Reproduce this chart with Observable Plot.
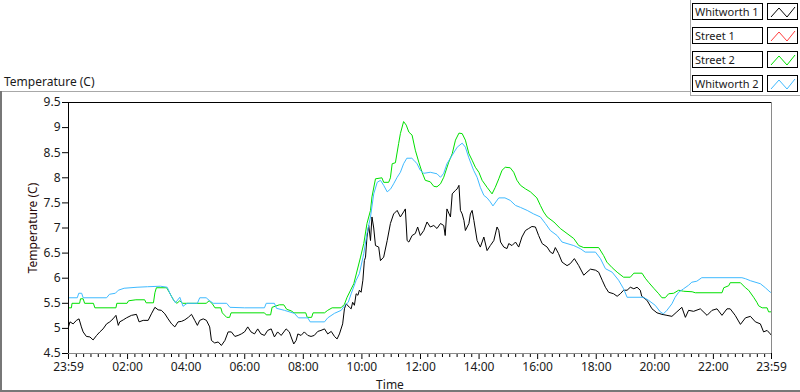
<!DOCTYPE html>
<html><head><meta charset="utf-8">
<script src="https://cdn.jsdelivr.net/npm/d3@7"></script>
<script src="https://cdn.jsdelivr.net/npm/@observablehq/plot@0.6"></script>
<style>
body{margin:0;background:#fff;font-family:"Noto Sans",sans-serif;color:#1a1a1a;}
#wrap{position:relative;width:800px;height:392px;overflow:hidden;background:#fff;}
#chart{position:absolute;left:0;top:0;}
.ov{position:absolute;}
.ln{position:absolute;}
.lbox{position:absolute;box-sizing:border-box;border:1px solid #000;background:#fff;font-size:11px;line-height:15px;padding-left:2px;white-space:nowrap;overflow:hidden;}
.sw{position:absolute;box-sizing:border-box;border:1px solid #000;background:#fff;}
</style></head><body>
<div id="wrap">
  <div id="chart"></div>
</div>
<script>
// ---- data (hours after 23:59 start, temperature °C) ----
const seriesNames = ["Whitworth 1", "Street 1", "Street 2", "Whitworth 2"];
const seriesColors = ["#000000", "#ff3c3c", "#00e000", "#3fbaff"];
const tickLabels = ["23:59","02:00","04:00","06:00","08:00","10:00","12:00","14:00","16:00","18:00","20:00","22:00","23:59"];
const yTicks = [4.5,5,5.5,6,6.5,7,7.5,8,8.5,9,9.5];

const whitworth1 = [[0,5.03],[0.05,5.13],[0.16,5.09],[0.27,5.16],[0.36,5.19],[0.44,5.03],[0.50,4.93],[0.61,4.84],[0.73,4.83],[0.84,4.77],[0.96,4.86],[1.07,4.93],[1.18,4.99],[1.30,5.09],[1.41,5.13],[1.52,5.19],[1.62,5.26],[1.70,5.06],[1.75,5.13],[1.87,5.17],[1.98,5.21],[2.15,5.26],[2.32,5.28],[2.41,5.13],[2.55,5.16],[2.72,5.16],[2.83,5.29],[2.95,5.42],[3.06,5.37],[3.17,5.36],[3.29,5.29],[3.40,5.19],[3.52,5.09],[3.63,5.03],[3.74,5.13],[3.86,5.14],[3.97,5.17],[4.09,5.22],[4.20,5.28],[4.31,5.16],[4.40,5.06],[4.48,5.16],[4.60,5.19],[4.71,5.16],[4.82,5.03],[4.88,4.76],[4.99,4.71],[5.11,4.73],[5.22,4.66],[5.34,4.76],[5.45,4.93],[5.56,4.93],[5.68,4.84],[5.79,4.86],[5.90,4.89],
[6.01,4.93],[6.12,5.03],[6.23,4.93],[6.35,4.89],[6.46,4.99],[6.57,4.89],[6.69,4.86],[6.80,4.96],[6.92,4.99],[7.03,4.83],[7.14,4.93],[7.26,4.86],[7.43,4.99],[7.54,4.93],[7.60,4.83],[7.69,4.69],[7.77,4.76],[7.83,4.89],[7.94,4.86],[8.05,4.93],[8.17,4.86],[8.28,4.84],[8.39,4.86],[8.51,4.94],[8.62,4.96],[8.74,4.99],[8.85,4.89],[8.97,4.94],[9.08,4.84],[9.17,4.79],[9.25,4.89],[9.36,5.09],[9.42,5.39],[9.48,5.49],[9.59,5.42],[9.65,5.39],[9.70,5.52],[9.76,5.46],[9.82,5.69],[9.88,5.66],[9.93,5.76],[9.99,5.72],[10.05,5.96],[10.10,6.35],[10.14,6.42],[10.19,6.82],[10.25,7.05],[10.31,6.75],[10.36,7.22],[10.42,7.00],[10.48,6.65],[10.59,6.62],[10.65,6.35],[10.76,6.42],[10.88,6.75],[10.99,7.09],[11.10,7.28],[11.22,7.35],[11.33,7.22],[11.44,7.32],[11.50,7.38],[11.56,6.75],[11.62,6.72],[11.73,6.85],[11.84,6.89],[11.92,7.02],[12.01,6.85],[12.13,6.95],[12.24,7.12],[12.35,7.02],[12.47,7.05],[12.58,6.99],[12.70,7.09],[12.81,7.05],[12.86,6.85],[12.92,7.38],[13.04,7.22],[13.10,7.68],[13.21,7.75],[13.27,7.78],[13.33,7.85],[13.38,7.35],[13.44,7.28],[13.50,7.15],[13.55,6.95],[13.67,7.09],[13.72,7.28],[13.78,7.35],[13.84,7.15],[13.95,6.75],[14.06,6.62],[14.18,6.82],[14.29,6.55],[14.40,6.65],[14.52,6.75],[14.63,7.02],[14.69,6.95],[14.75,6.72],[14.86,6.62],[14.97,6.59],[15.03,6.69],[15.14,6.65],[15.26,6.72],[15.37,6.62],[15.48,6.82],[15.60,6.95],[15.71,6.99],[15.82,7.03],[15.94,7.02],[16.05,6.85],[16.17,6.69],[16.34,6.62],[16.45,6.52],[16.54,6.49],[16.62,6.61],[16.73,6.49],[16.85,6.32],[17.02,6.25],[17.13,6.29],[17.27,6.39],[17.42,6.25],[17.59,6.06],[17.70,6.12],[17.82,6.18],[17.99,6.16],[18.10,6.12],[18.22,5.96],[18.33,5.82],[18.44,5.72],[18.61,5.69],[18.73,5.64],[18.84,5.69],[18.95,5.76],[19.07,5.76],[19.18,5.82],[19.30,5.79],[19.41,5.82],[19.52,5.76],[19.57,5.64],[19.75,5.56],[19.92,5.39],[20.09,5.31],[20.26,5.28],[20.43,5.26],[20.60,5.24],[20.77,5.33],[20.94,5.42],[21.06,5.22],[21.17,5.36],[21.34,5.34],[21.57,5.39],[21.80,5.26],[21.97,5.36],[22.14,5.39],[22.31,5.26],[22.48,5.39],[22.59,5.39],[22.76,5.26],[22.94,5.08],[23.11,5.21],[23.28,5.24],[23.45,5.13],[23.62,5.09],[23.73,4.93],[23.85,4.96],[23.96,4.89],[24,4.86]];

const street1 = []; // not visible in the chart

const street2 = [[0,5.41],[0.10,5.41],[0.12,5.50],[0.38,5.50],[0.41,5.59],[0.50,5.59],[0.55,5.50],[0.85,5.50],[0.90,5.41],[1.62,5.41],[1.65,5.50],[2.00,5.50],[2.05,5.55],[2.30,5.57],[2.60,5.57],[2.65,5.51],[2.90,5.51],[2.95,5.71],[3.00,5.81],[3.35,5.81],[3.45,5.71],[3.60,5.55],[3.70,5.50],[3.80,5.55],[3.90,5.50],[4.70,5.50],[4.80,5.55],[4.90,5.50],[5.00,5.41],[5.20,5.41],[5.25,5.31],[5.40,5.22],[5.50,5.22],[5.55,5.31],[6.69,5.31],[6.75,5.27],[6.90,5.27],[6.95,5.42],[7.20,5.47],[7.35,5.47],[7.45,5.38],[7.60,5.35],[7.70,5.31],[8.10,5.31],[8.15,5.22],[8.30,5.22],[8.35,5.31],[8.74,5.31],[8.85,5.36],[9.00,5.41],[9.30,5.41],[9.42,5.48],[9.51,5.62],[9.74,5.89],[9.97,6.42],[10.08,6.69],[10.19,7.09],[10.31,7.35],[10.36,7.62],[10.48,7.98],[10.70,8.00],[10.76,7.91],[10.93,7.91],[10.99,8.00],[11.05,8.28],[11.16,8.30],[11.27,8.68],[11.33,8.88],[11.44,9.12],[11.53,9.05],[11.62,8.91],[11.73,8.85],[11.84,8.55],[11.96,8.31],[12.07,8.11],[12.18,7.95],[12.35,7.92],[12.47,7.83],[12.58,7.82],[12.70,7.88],[12.81,8.01],[12.98,8.31],[13.10,8.48],[13.21,8.75],[13.33,8.89],[13.44,8.88],[13.55,8.75],[13.67,8.48],[13.78,8.35],[13.89,8.21],[14.01,8.11],[14.12,7.95],[14.29,7.81],[14.46,7.68],[14.57,7.81],[14.69,7.98],[14.80,8.15],[14.91,8.21],[15.08,8.20],[15.20,8.11],[15.31,7.95],[15.43,7.85],[15.60,7.78],[15.77,7.72],[15.99,7.60],[16.11,7.45],[16.22,7.32],[16.34,7.22],[16.57,7.12],[16.79,6.99],[17.02,6.89],[17.25,6.79],[17.42,6.65],[17.59,6.61],[18.10,6.61],[18.27,6.45],[18.38,6.32],[18.56,6.21],[18.73,6.12],[18.95,6.02],[19.18,6.02],[19.30,6.10],[19.58,6.10],[19.69,6.00],[19.80,5.92],[19.98,5.80],[20.15,5.69],[20.26,5.61],[20.37,5.61],[20.49,5.69],[20.66,5.70],[20.83,5.76],[21.00,5.74],[21.29,5.73],[21.40,5.71],[22.31,5.71],[22.37,5.81],[22.54,5.85],[22.59,5.91],[22.94,5.91],[23.11,5.81],[23.22,5.76],[23.39,5.62],[23.50,5.52],[23.56,5.45],[23.68,5.41],[23.85,5.41],[23.90,5.33],[24,5.33]];

const whitworth2 = [[0,5.61],[0.30,5.61],[0.35,5.70],[0.45,5.70],[0.50,5.61],[1.30,5.61],[1.40,5.68],[1.60,5.70],[1.70,5.76],[1.90,5.80],[2.34,5.82],[2.70,5.83],[3.14,5.84],[3.37,5.82],[3.50,5.65],[3.65,5.51],[3.80,5.62],[3.91,5.44],[4.05,5.50],[4.40,5.50],[4.48,5.61],[4.70,5.61],[4.80,5.56],[4.94,5.50],[5.40,5.50],[5.51,5.42],[6.01,5.41],[6.69,5.41],[6.75,5.50],[7.03,5.50],[7.10,5.40],[7.37,5.36],[7.71,5.30],[7.85,5.21],[8.17,5.21],[8.25,5.13],[8.74,5.13],[8.85,5.21],[9.08,5.30],[9.31,5.36],[9.42,5.45],[9.55,5.52],[9.65,5.69],[9.82,5.96],[9.93,6.09],[10.08,6.49],[10.19,6.89],[10.31,7.22],[10.42,7.68],[10.54,7.91],[10.65,7.95],[10.76,7.85],[10.88,7.72],[11.00,7.78],[11.10,7.88],[11.22,8.01],[11.33,8.11],[11.44,8.28],[11.55,8.39],[11.72,8.39],[11.79,8.35],[11.90,8.28],[12.01,8.15],[12.13,8.09],[12.35,8.11],[12.58,8.08],[12.70,8.01],[12.81,8.09],[12.92,8.28],[13.10,8.45],[13.27,8.61],[13.44,8.69],[13.55,8.61],[13.66,8.41],[13.83,8.15],[13.95,8.01],[14.06,7.81],[14.18,7.65],[14.29,7.60],[14.40,7.52],[14.49,7.44],[14.69,7.60],[14.90,7.60],[15.08,7.55],[15.26,7.45],[15.43,7.41],[15.66,7.35],[15.88,7.28],[16.11,7.22],[16.28,7.09],[16.45,6.95],[16.68,6.85],[16.85,6.72],[17.02,6.69],[17.25,6.65],[17.47,6.59],[17.64,6.52],[17.99,6.52],[18.16,6.39],[18.33,6.19],[18.56,6.12],[18.78,5.96],[18.95,5.79],[19.07,5.62],[19.63,5.62],[19.80,5.56],[20.03,5.46],[20.20,5.33],[20.31,5.29],[20.43,5.36],[20.60,5.49],[20.71,5.62],[20.83,5.72],[21.00,5.79],[21.17,5.86],[21.28,5.92],[21.45,5.94],[21.62,6.01],[22.99,6.01],[23.11,5.99],[23.28,5.95],[23.62,5.89],[23.79,5.81],[23.96,5.72],[24,5.72]];

// ---- build ----
const start = new Date(Date.UTC(2024, 0, 1, 23, 59));
const end = new Date(start.getTime() + 24 * 3600e3);
const toDate = h => new Date(start.getTime() + h * 3600e3);

// major ticks from the label list
const majorTicks = tickLabels.map((lab, i) => {
  if (i === 0) return start;
  if (i === tickLabels.length - 1) return end;
  const [hh, mm] = lab.split(":").map(Number);
  return new Date(Date.UTC(2024, 0, 2, hh, mm));
});
const labelByTime = new Map(majorTicks.map((d, i) => [+d, tickLabels[i]]));
const minorTicks = d3.utcMinute.every(15).range(start, end)
  .filter(d => !(d.getUTCMinutes() === 0 && d.getUTCHours() % 2 === 0));

const allSeries = [whitworth1, street1, street2, whitworth2];
const lineMarks = allSeries.map((s, i) =>
  Plot.line(s.map(([h, v]) => ({t: toDate(h), v})), {x: "t", y: "v", stroke: seriesColors[i], strokeWidth: 1})
);

const chart = Plot.plot({
  width: 800, height: 392,
  marginLeft: 68, marginRight: 29, marginTop: 102, marginBottom: 39,
  style: {fontFamily: '"Noto Sans", sans-serif', fontSize: "12px", background: "transparent", color: "#1a1a1a"},
  x: {type: "utc", domain: [start, end]},
  y: {domain: [4.5, 9.5]},
  marks: [
    Plot.axisY({ticks: yTicks, tickSize: 6, tickPadding: 2, tickFormat: d => String(d), label: null, stroke: "#000"}),
    Plot.axisX({ticks: minorTicks, tickSize: 4, tickFormat: () => "", label: null, stroke: "#000"}),
    Plot.axisX({ticks: majorTicks, tickSize: 6, tickPadding: 3, tickFormat: d => labelByTime.get(+d), label: null, stroke: "#000"}),
    ...lineMarks,
    Plot.ruleY([4.5], {stroke: "#8a8a8a"}),
    Plot.ruleX([end], {stroke: "#8a8a8a"}),
    Plot.ruleY([9.5], {stroke: "#000"}),
    Plot.ruleX([start], {stroke: "#000"})
  ]
});
document.getElementById("chart").appendChild(chart);

// ---- overlays: panel frame, titles, legend ----
const wrap = document.getElementById("wrap");
function add(html) { wrap.insertAdjacentHTML("beforeend", html); }
add('<div class="ln" style="left:0;top:91px;width:690px;height:1px;background:#a8a8a8"></div>');
add('<div class="ln" style="left:0;top:91px;width:2px;height:301px;background:#777"></div>');
add('<div class="ln" style="left:0;top:390px;width:800px;height:2px;background:#777"></div>');
add('<div class="ln" style="left:690px;top:0;width:1px;height:96px;background:#a8a8a8"></div>');
add('<div class="ln" style="left:690px;top:95px;width:110px;height:1px;background:#a8a8a8"></div>');
add('<div class="ov" style="left:4px;top:73px;font-size:12px;">Temperature (C)</div>');
add('<div class="ov" style="left:32px;top:228px;font-size:12px;white-space:nowrap;transform:translate(-50%,-50%) rotate(-90deg);color:#2a0a0a">Temperature (C)</div>');
add('<div class="ov" style="left:390px;top:384px;font-size:12px;transform:translate(-50%,-50%)">Time</div>');

seriesNames.forEach((name, i) => {
  const top = 3 + i * 24;
  add(`<div class="lbox" style="left:692px;top:${top}px;width:71px;height:17px">${name}</div>`);
  add(`<div class="sw" style="left:767px;top:${top}px;width:31px;height:17px"><svg width="29" height="15" style="position:absolute;left:0;top:0"><polyline points="3,13 11,4 19,13 27,3" fill="none" stroke="${seriesColors[i]}" stroke-width="1"/></svg></div>`);
});
</script>
</body></html>
